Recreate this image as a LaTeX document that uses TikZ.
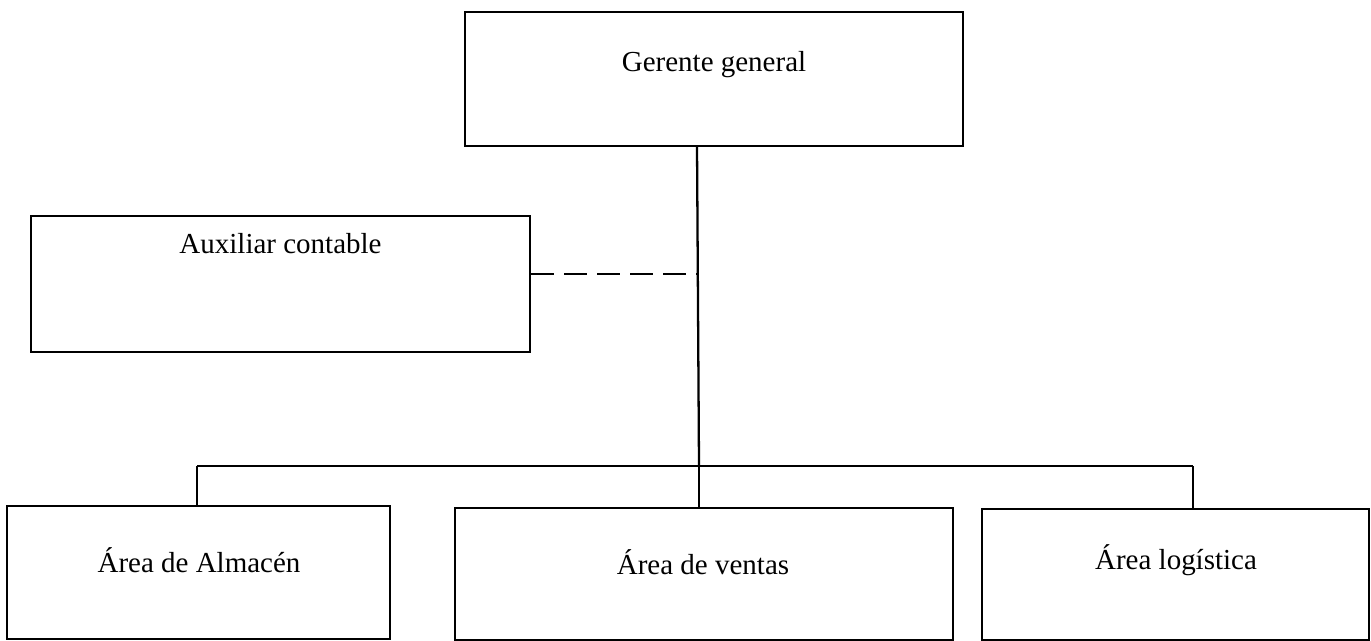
\documentclass[tikz,border=0pt]{standalone}
\usepackage{fontspec}
\setmainfont{Liberation Serif}
\usetikzlibrary{positioning}

\begin{document}
\begin{tikzpicture}[x=0.02cm, y=-0.02cm, line width=1.3pt,
  caja/.style={rectangle, draw=black, inner sep=0pt, line width=1.3pt},
  texto/.style={font=\fontsize{16.5}{20}\selectfont}]
\useasboundingbox (0,0) rectangle (1371,641);

\node[caja, minimum width=9.96cm, minimum height=2.68cm] (gg) at (714,79) {};
\node[texto] (ggt) at (714,65) {Gerente general};

\node[caja, minimum width=9.98cm, minimum height=2.72cm] (ac) at (280.5,284) {};
\node[texto] (act) at (280.5,244) {Auxiliar contable};

\node[caja, minimum width=7.66cm, minimum height=2.66cm] (aa) at (198.5,572.5) {};
\node[texto] (aat) at (199,560) {Área de Almacén};
\node[caja, minimum width=9.96cm, minimum height=2.64cm] (av) at (704,574) {};
\node[texto] (avt) at (703,562) {Área de ventas};
\node[caja, minimum width=7.74cm, minimum height=2.62cm] (al) at (1175.5,574.5) {};
\node[texto] (alt) at (1176,560) {Área logística};

\coordinate (t) at (697,146);
\coordinate (j) at (699,466);
\coordinate (jl) at (197,466);
\coordinate (jr) at (1193,466);
\coordinate (d) at (697.5,274);

\draw (t) -- (j);
\draw (jl) -- (jr);
\draw (jl) -- (jl |- aa.north);
\draw (j) -- (j |- av.north);
\draw (jr) -- (jr |- al.north);
\draw[dash pattern=on 0.46cm off 0.2cm] (ac.east |- d) -- (d);
\end{tikzpicture}
\end{document}
